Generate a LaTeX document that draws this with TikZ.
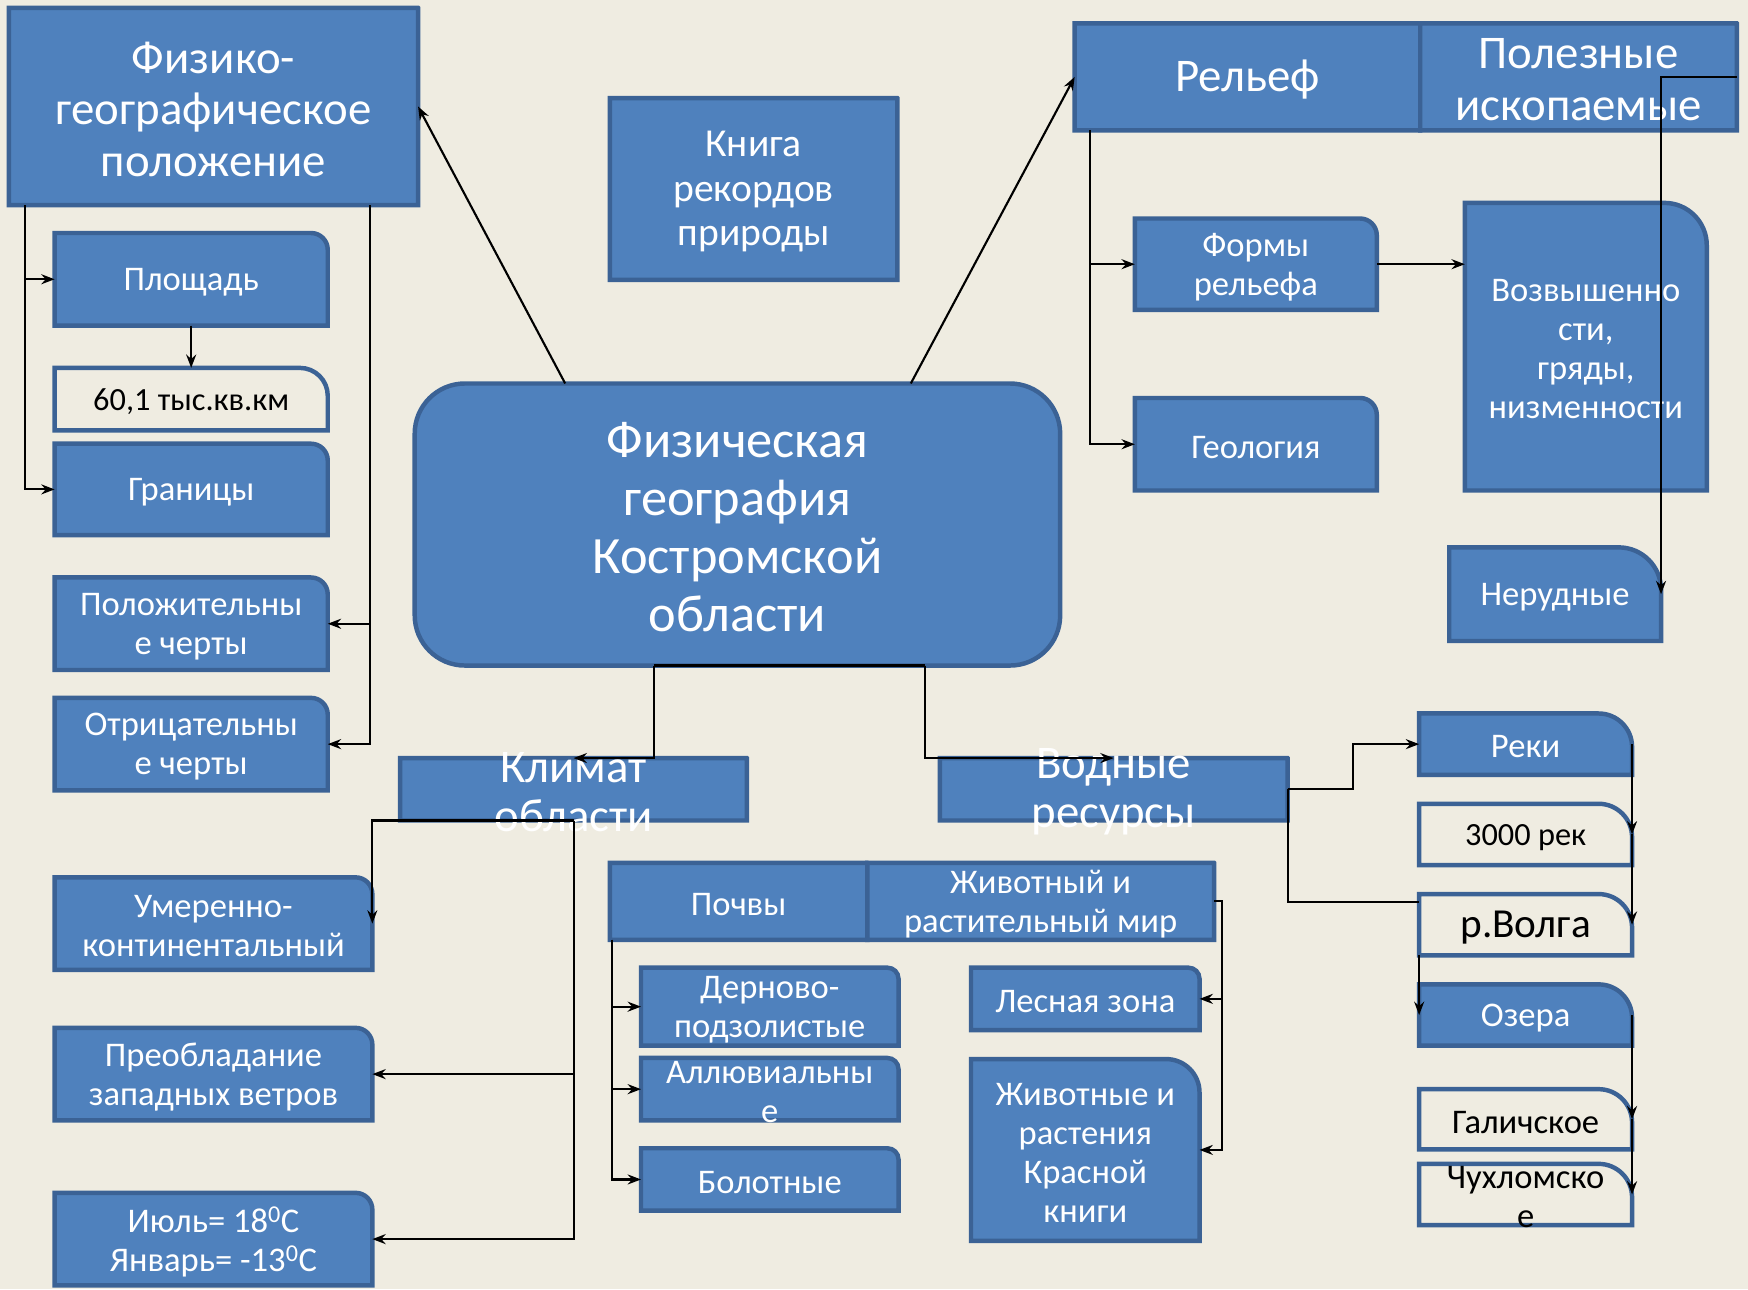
\documentclass[tikz,border=0pt]{standalone}
\usepackage{fontspec}
\setmainfont{Carlito}
\usetikzlibrary{arrows.meta,calc}
\definecolor{bgc}{HTML}{EFECE1}
\definecolor{boxfill}{HTML}{4F81BD}
\definecolor{boxline}{HTML}{3B6295}
\tikzset{
  bluebox/.style={fill=boxfill, draw=boxline, line width=4pt},
  whitebox/.style={draw=boxline, line width=4pt},
  anch/.style={inner sep=0pt, outer sep=0pt, draw=none},
  wt/.style={text=white, align=center, inner sep=0pt, yshift=-2.5pt},
  bt/.style={text=black, align=center, inner sep=0pt, yshift=-2.5pt},
  f28/.style={font=\fontsize{29}{34}\selectfont},
  f30/.style={font=\fontsize{31}{35}\selectfont},
  f34/.style={font=\fontsize{35.5}{40}\selectfont},
  f36/.style={font=\fontsize{37}{42}\selectfont},
  f40/.style={font=\fontsize{42}{46}\selectfont},
  f40k/.style={font=\fontsize{42}{44}\selectfont},
  f45/.style={font=\fontsize{47}{52}\selectfont},
  ln/.style={line width=1.9pt, draw=black},
  arr/.style={line width=1.9pt, draw=black, -{Stealth[length=12pt,width=9pt,inset=4pt]}},
}
% name x1 y1 x2 y2 radius boxstyle textstyle text
\newcommand\bx[9]{%
  \draw[#7] (#2,#3) -- ({#4-#6},#3) arc[start angle=90,end angle=0,radius=#6pt] -- (#4,#5) -- (#2,#5) -- cycle;
  \node[anch, minimum width={(#4-#2)*1pt}, minimum height={(#5-#3)*1pt}] (#1) at ({(#2+#4)/2},{(#3+#5)/2}) {};
  \node[#8] (#1-t) at (#1.center) {#9};
}
\begin{document}
\begin{tikzpicture}[x=1pt,y=-1pt]
\fill[bgc] (0,0) rectangle (1568,1156.3);
\useasboundingbox (0,0) rectangle (1568,1156.3);

\bx{fgp}{8}{7}{375}{184}{0.01}{bluebox}{wt,f40}{Физико-\\географическое\\положение}
\bx{kniga}{547}{88}{805}{251}{0.01}{bluebox}{wt,f34}{Книга\\рекордов\\природы}
\node[bluebox, rounded corners=45pt, minimum width=579pt, minimum height=253pt] (main) at (661.5,470.5) {};
\node[wt, f45] (main-t) at (main.center) {Физическая\\география\\Костромской\\области};

\bx{rel}{964}{21}{1274}{117}{0.01}{bluebox}{wt,f40}{Рельеф}
\bx{polez}{1274}{21}{1558}{117}{0.01}{bluebox}{wt,f40}{Полезные\\ископаемые}

\bx{plosh}{49}{209}{294}{292}{15}{bluebox}{wt,f30}{Площадь}
\bx{num}{49}{330}{294}{386}{25}{whitebox}{bt,f28}{60,1 тыс.кв.км}
\bx{gran}{49}{398}{294}{480}{15}{bluebox}{wt,f30}{Границы}
\bx{pos}{49}{518}{294}{601}{15}{bluebox}{wt,f30}{Положительны\\е черты}
\bx{neg}{49}{626}{294}{709}{15}{bluebox}{wt,f30}{Отрицательны\\е черты}

\bx{formy}{1018}{196}{1235}{278}{15}{bluebox}{wt,f30}{Формы\\рельефа}
\bx{geol}{1018}{357}{1235}{440}{15}{bluebox}{wt,f30}{Геология}
\bx{vozv}{1314}{182}{1531}{440}{38}{bluebox}{wt,f30}{Возвышенно\\сти,\\гряды,\\низменности}
\bx{nerud}{1300}{491}{1490}{575}{38}{bluebox}{wt,f30}{Нерудные}

\bx{klimat}{359}{680}{670}{736}{0.01}{bluebox}{wt,f40k}{Климат\\области}
\bx{vodn}{843}{680}{1155}{736}{0.01}{bluebox}{wt,f40k}{Водные\\ресурсы}

\bx{umer}{49}{787}{334}{870}{15}{bluebox}{wt,f30}{Умеренно-\\континентальный}
\bx{preob}{49}{922}{334}{1005}{15}{bluebox}{wt,f30}{Преобладание\\западных ветров}
\bx{iul}{49}{1070}{334}{1153}{15}{bluebox}{wt,f30}{Июль= 18\textsuperscript{0}C\\Январь= -13\textsuperscript{0}C}

\bx{pochvy}{547}{774}{778}{843}{0.01}{bluebox}{wt,f30}{Почвы}
\bx{zhiv}{778}{774}{1089}{843}{0.01}{bluebox}{wt,f30}{Животный и\\растительный мир}
\bx{dern}{575}{868}{806}{938}{10}{bluebox}{wt,f30}{Дерново-\\подзолистые}
\bx{allu}{575}{949}{806}{1005}{10}{bluebox}{wt,f30}{Аллювиальны\\е}
\bx{bol}{575}{1030}{806}{1086}{10}{bluebox}{wt,f30}{Болотные}
\bx{les}{871}{868}{1076}{924}{10}{bluebox}{wt,f30}{Лесная зона}
\bx{kras}{871}{950}{1076}{1113}{30}{bluebox}{wt,f30}{Животные и\\растения\\Красной\\книги}

\bx{reki}{1273}{640}{1464}{695}{30}{bluebox}{wt,f30}{Реки}
\bx{rtt}{1273}{721}{1464}{776}{30}{whitebox}{bt,f28}{3000 рек}
\bx{volga}{1273}{802}{1464}{857}{30}{whitebox}{bt,f36}{р.Волга}
\bx{ozera}{1273}{883}{1464}{938}{30}{bluebox}{wt,f30}{Озера}
\bx{galich}{1273}{977}{1464}{1031}{30}{whitebox}{bt,f30}{Галичское}
\bx{chukh}{1273}{1044}{1464}{1099}{30}{whitebox}{bt,f30}{Чухломско\\е}

% connectors
\coordinate (fl) at (22.5,184);
\coordinate (fr) at (332,184);
\draw[arr] (fl) |- (plosh.west);
\draw[arr] (fl) |- (gran.west);
\draw[arr] (fr) |- (pos.east);
\draw[arr] (fr) |- (neg.east);
\draw[arr] (plosh.south) -- (num.north);

\coordinate (m1) at (507,344);
\coordinate (m2) at (817,344);
\draw[arr] (m1) -- (fgp.east);
\draw[arr] (m2) -- (rel.west);

\coordinate (rv) at (978,117);
\draw[arr] (rv) |- (formy.west);
\draw[arr] (rv) |- (geol.west);
\draw[arr] (formy.east) -- (vozv.west |- formy.east);
\draw[arr] (polez.east) -| (nerud.east);

\coordinate (mc) at (587,597);
\coordinate (mv) at (830,597);
\draw[ln] (mc) -- (mv);
\draw[arr] (mc) |- (klimat.north);
\draw[arr] (mv) |- (vodn.north);

\draw[ln] (klimat.south) -- (klimat.south |- iul.east);
\draw[arr] (klimat.south) -| (umer.east);
\draw[arr] (klimat.south) |- (preob.east);
\draw[arr] (klimat.south) |- (iul.east);

\coordinate (ps) at (549,843);
\draw[arr] (ps) |- (dern.west);
\draw[arr] (ps) |- (allu.west);
\draw[arr] (ps) |- (bol.west);

\draw[arr] (zhiv.east) -- ++(7,0) |- (les.east);
\draw[arr] (zhiv.east) -- ++(7,0) |- (kras.east);

\draw[arr] (vodn.east) -- ++(59,0) |- (reki.west);
\draw[ln] (vodn.east) |- ($(volga.north west)+(0,7)$);
\draw[arr] (volga.south west) -- (ozera.west);
\draw[arr] (reki.east) -- (rtt.east);
\draw[arr] (rtt.east) -- (volga.east);
\draw[arr] (ozera.east) -- (galich.east);
\draw[arr] (galich.east) -- (chukh.east);
\end{tikzpicture}
\end{document}
